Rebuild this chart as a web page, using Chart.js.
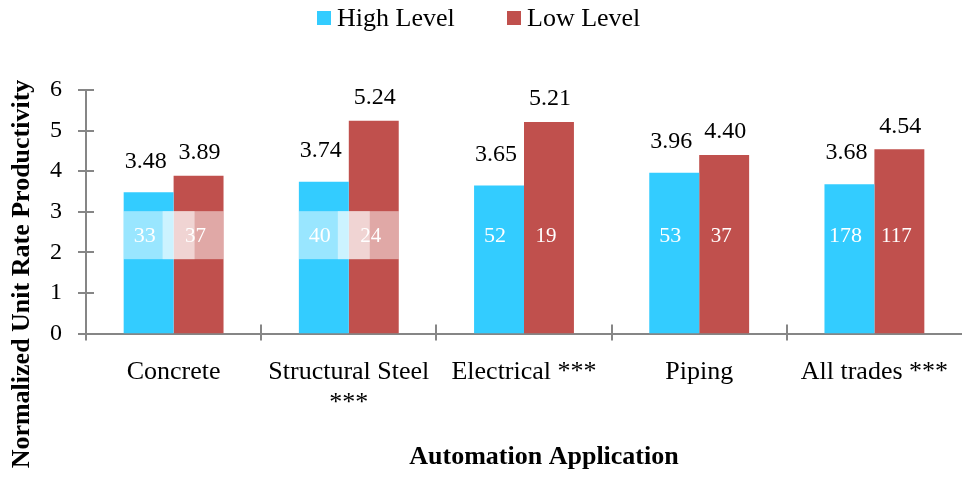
<!DOCTYPE html>
<html>
<head>
<meta charset="utf-8">
<script src="https://cdn.jsdelivr.net/npm/chart.js@4.4.0/dist/chart.umd.min.js"></script>
<style>
  html, body { margin: 0; padding: 0; background: #fff; }
  #wrap { width: 962px; height: 479px; }
</style>
</head>
<body>
<div id="wrap"><canvas id="chart"></canvas></div>
<script>
// Data
const categories = ['Concrete', ['Structural Steel', '***'], 'Electrical ***', 'Piping', 'All trades ***'];
const seriesNames = ['High Level', 'Low Level'];
const highLevel = [3.48, 3.74, 3.65, 3.96, 3.68];
const lowLevel = [3.89, 5.24, 5.21, 4.40, 4.54];
const highCounts = [33, 40, 52, 53, 178];
const lowCounts = [37, 24, 19, 37, 117];
const yTicks = [0, 1, 2, 3, 4, 5, 6];
// categories where the count labels sit on pale boxes in the original
const boxedCategories = [0, 1];
const countLevel = 2.4;

const serif = '"Liberation Serif", "Times New Roman", serif';
const colors = ['#33CCFF', '#C0504D'];
const axisColor = '#868686';

const decor = {
    id: 'decor',
    afterDatasetsDraw(chart) {
        const { ctx, scales: { y } } = chart;
        const high = chart.getDatasetMeta(0).data;
        const low = chart.getDatasetMeta(1).data;
        const cy = y.getPixelForValue(countLevel);
        ctx.save();

        // pale boxes behind the counts
        ctx.fillStyle = 'rgba(255,255,255,0.5)';
        boxedCategories.forEach(i => {
            const h = high[i], l = low[i];
            const hl = h.x - h.width / 2, hr = h.x + h.width / 2;
            const ll = l.x - l.width / 2, lr = l.x + l.width / 2;
            ctx.fillRect(hl, cy - 25, ll + 0.42 * l.width - hl, 48);
            const bx = hr - 0.22 * h.width;
            ctx.fillRect(bx, cy - 25, lr - bx, 48);
        });

        // counts inside bars
        ctx.fillStyle = '#fff';
        ctx.textAlign = 'center';
        ctx.textBaseline = 'middle';
        ctx.font = '22px ' + serif;
        high.forEach((b, i) => ctx.fillText(String(highCounts[i]), b.x - 4, cy));
        ctx.font = '21px ' + serif;
        low.forEach((b, i) => ctx.fillText(String(lowCounts[i]), b.x - 3, cy));

        // values above bars
        ctx.fillStyle = '#000';
        ctx.font = '24px ' + serif;
        high.forEach((b, i) => ctx.fillText(highLevel[i].toFixed(2), b.x - 3, b.y - 31));
        low.forEach((b, i) => ctx.fillText(lowLevel[i].toFixed(2), b.x + 1, b.y - 23));
        ctx.restore();
    },
    afterDraw(chart) {
        const { ctx, scales: { x, y } } = chart;
        ctx.save();
        ctx.strokeStyle = axisColor;
        ctx.lineWidth = 2;
        ctx.beginPath();
        // y tick marks crossing the axis
        yTicks.forEach(v => {
            const py = Math.round(y.getPixelForValue(v));
            ctx.moveTo(x.left - 8, py);
            ctx.lineTo(x.left + 8, py);
        });
        // x tick marks between categories
        const step = x.width / categories.length;
        for (let i = 0; i < categories.length; i++) {
            const px = Math.round(x.getPixelForValue(i) - step / 2);
            ctx.moveTo(px, y.bottom - 9);
            ctx.lineTo(px, y.bottom + 7);
        }
        ctx.stroke();

        // axis titles
        ctx.fillStyle = '#000';
        ctx.textAlign = 'center';
        ctx.textBaseline = 'middle';
        ctx.font = 'bold 26px ' + serif;
        ctx.fillText('Automation Application', 544, 457);
        ctx.save();
        ctx.translate(22, 274);
        ctx.rotate(-Math.PI / 2);
        ctx.fillText('Normalized Unit Rate Productivity', 0, 0);
        ctx.restore();

        // legend
        ctx.font = '26px ' + serif;
        ctx.textAlign = 'left';
        const legendX = [317, 507];
        seriesNames.forEach((name, i) => {
            ctx.fillStyle = colors[i];
            ctx.fillRect(legendX[i], 11, 14, 14);
            ctx.fillStyle = '#000';
            ctx.fillText(name, legendX[i] + 20, 19);
        });
        ctx.restore();
    }
};

new Chart(document.getElementById('chart'), {
    type: 'bar',
    data: {
        labels: categories,
        datasets: [
            { label: seriesNames[0], data: highLevel, backgroundColor: colors[0], borderWidth: 0 },
            { label: seriesNames[1], data: lowLevel, backgroundColor: colors[1], borderWidth: 0 }
        ]
    },
    options: {
        responsive: true,
        maintainAspectRatio: false,
        animation: false,
        layout: { padding: { top: 90, left: 26, right: 0, bottom: 37 } },
        plugins: {
            legend: { display: false },
            tooltip: { enabled: false }
        },
        datasets: { bar: { categoryPercentage: 0.57, barPercentage: 1 } },
        scales: {
            x: {
                // the axis runs right to the edge, so drop the label overflow padding
                afterFit: s => { s.paddingLeft = 0; s.paddingRight = 0; },
                grid: { display: false, drawTicks: false },
                border: { color: axisColor, width: 2 },
                ticks: {
                    color: '#000',
                    font: { family: serif, size: 26 },
                    padding: 23,
                    maxRotation: 0,
                    autoSkip: false
                }
            },
            y: {
                min: 0,
                max: 6,
                afterBuildTicks: scale => { scale.ticks = yTicks.map(v => ({ value: v })); },
                grid: { display: false, drawTicks: false },
                border: { color: axisColor, width: 2 },
                ticks: {
                    color: '#000',
                    font: { family: serif, size: 24 },
                    padding: 24
                }
            }
        }
    },
    plugins: [decor]
});
</script>
</body>
</html>
